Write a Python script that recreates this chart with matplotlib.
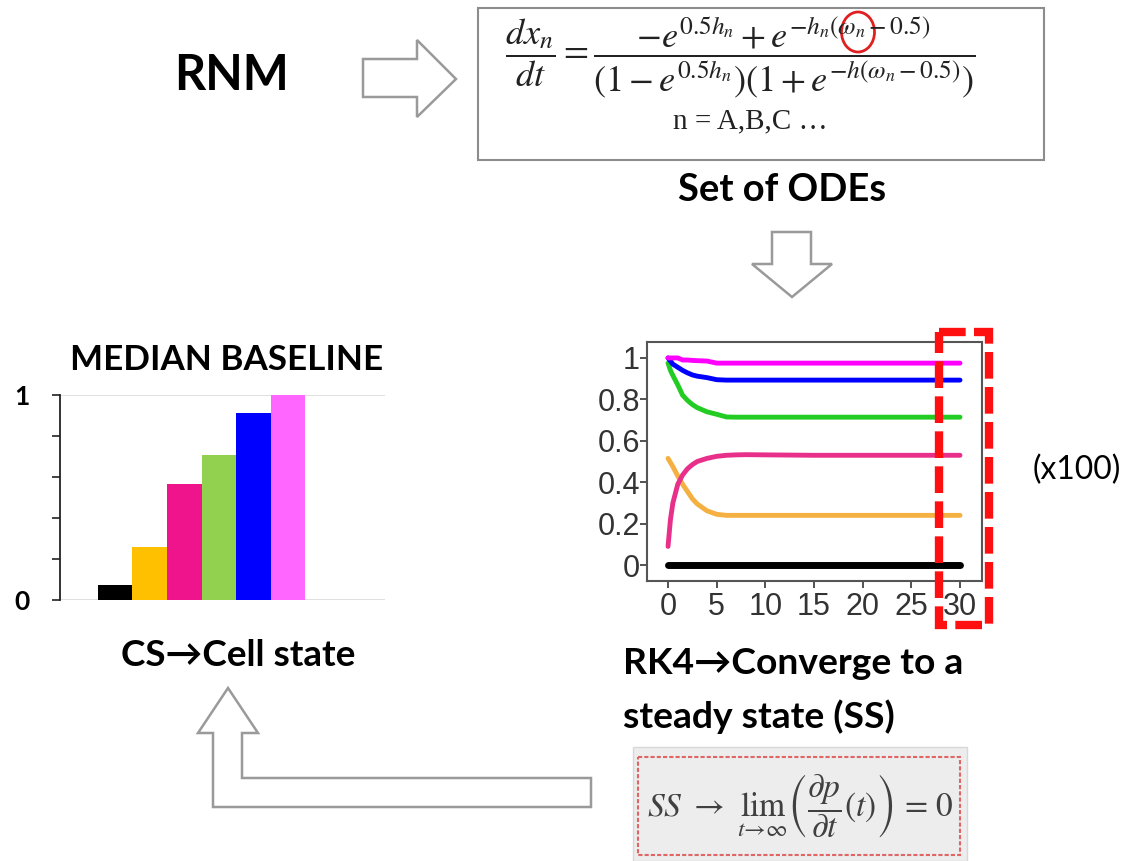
import matplotlib
matplotlib.use("Agg")
import matplotlib.pyplot as plt
from matplotlib.patches import Polygon, Rectangle, Ellipse

# bar chart (median baseline cell state)
bar_values = [0.075, 0.26, 0.565, 0.707, 0.91, 1.0]
bar_colors = ["#000000", "#ffc000", "#f0148c", "#92d050", "#0000ff", "#ff66ff"]

# RK4 trajectories
t = [0, 0.25, 0.5, 1, 1.5, 2, 2.5, 3, 4, 5, 6, 7, 8, 10, 15, 20, 25, 30]
x_magenta = [1.0, 1.0, 1.0, 1.0, 0.99, 0.99, 0.988, 0.987, 0.985, 0.975, 0.975,
             0.975, 0.975, 0.975, 0.975, 0.975, 0.975, 0.975]
x_blue = [1.0, 0.985, 0.97, 0.955, 0.94, 0.928, 0.918, 0.912, 0.905, 0.895, 0.893,
          0.893, 0.893, 0.893, 0.893, 0.893, 0.893, 0.893]
x_green = [0.975, 0.94, 0.915, 0.87, 0.82, 0.795, 0.775, 0.76, 0.74, 0.728, 0.715,
           0.714, 0.714, 0.714, 0.714, 0.714, 0.714, 0.714]
x_pink = [0.09, 0.22, 0.30, 0.39, 0.435, 0.465, 0.485, 0.50, 0.515, 0.525, 0.53,
          0.532, 0.533, 0.532, 0.53, 0.53, 0.53, 0.53]
x_orange = [0.515, 0.495, 0.475, 0.43, 0.39, 0.355, 0.32, 0.295, 0.262, 0.245, 0.24,
            0.24, 0.24, 0.24, 0.24, 0.24, 0.24, 0.24]
x_black = [0.0] * len(t)
series = [
    (x_black, "#000000", 5.0),
    (x_orange, "#f5b042", 3.5),
    (x_pink, "#e8308a", 3.5),
    (x_green, "#22cc22", 3.5),
    (x_blue, "#0000ff", 3.5),
    (x_magenta, "#ff00ff", 3.5),
]
x_ticks = [0, 5, 10, 15, 20, 25, 30]
y_ticks = [0, 0.2, 0.4, 0.6, 0.8, 1]
y_tick_labels = ["0", "0.2", "0.4", "0.6", "0.8", "1"]

W, H = 1129, 861
plt.rcParams["mathtext.fontset"] = "stix"
SANS = ["Lato", "DejaVu Sans"]

fig = plt.figure(figsize=(W / 100, H / 100), dpi=100)
renderer = fig.canvas.get_renderer()

canvas = fig.add_axes([0, 0, 1, 1], zorder=0)
canvas.set_xlim(0, W)
canvas.set_ylim(H, 0)
canvas.axis("off")


def px_axes(left, top, right, bottom, **kw):
    return fig.add_axes([left / W, (H - bottom) / H, (right - left) / W, (bottom - top) / H], **kw)


def fit_text(x, y, s, width, **kw):
    txt = canvas.text(x, y, s, fontsize=20, **kw)
    w = txt.get_window_extent(renderer).width
    txt.set_fontsize(20 * width / w)
    return txt


def hollow(points):
    canvas.add_patch(Polygon(points, closed=True, facecolor="white",
                             edgecolor="#9a9a9a", lw=1.8, joinstyle="miter"))


# titles and labels
fit_text(232, 76, "RNM", 115, ha="center", va="center", family=SANS, weight="bold")
fit_text(782, 190, "Set of ODEs", 208, ha="center", va="center", family=SANS, weight="bold")
fit_text(227, 360, "MEDIAN BASELINE", 312, ha="center", va="center", family=SANS, weight="bold")
fit_text(238, 655, "CS\u2192Cell state", 235, ha="center", va="center", family=SANS, weight="bold")
rk = fit_text(623, 663, "RK4\u2192Converge to a", 340, ha="left", va="center", family=SANS, weight="bold")
canvas.text(623, 717, "steady state (SS)", fontsize=rk.get_fontsize(), ha="left", va="center",
            family=SANS, weight="bold")
fit_text(1077, 470, "(x100)", 88, ha="center", va="center", family=SANS)

# arrows
hollow([(363, 59), (417, 59), (417, 40), (456, 79), (417, 117), (417, 97), (363, 97)])
hollow([(772, 232), (811, 232), (811, 264), (832, 264), (792, 297), (752, 264), (772, 264)])
hollow([(591, 778), (242, 778), (242, 733), (258, 733), (228, 688), (198, 733),
        (213, 733), (213, 807), (591, 807)])

# ODE box
canvas.add_patch(Rectangle((478, 8), 566, 152, facecolor="white", edgecolor="#8c8c8c", lw=1.5))
fit_text(740, 57,
         r"$\dfrac{dx_n}{dt} = \dfrac{-e^{0.5h_n} + e^{-h_n(\omega_n - 0.5)}}"
         r"{(1 - e^{0.5h_n})(1 + e^{-h(\omega_n - 0.5)})}$",
         470, ha="center", va="center", color="#222222")
canvas.text(750, 121, "n = A,B,C \u2026", fontsize=21, ha="center", va="center",
            family=["Liberation Serif", "DejaVu Serif"], color="#222222")
canvas.add_patch(Ellipse((858, 32), 33, 40, facecolor="none", edgecolor="#e02020", lw=2))

# steady state box
canvas.add_patch(Rectangle((633, 747), 334, 114, facecolor="#ededed", edgecolor="#d8d8d8", lw=1))
canvas.add_patch(Rectangle((638, 757), 322, 98, facecolor="none", edgecolor="#e06666",
                           lw=1.5, linestyle=(0, (2, 1))))
fit_text(800, 806, r"$SS\ \rightarrow\ \lim_{t\to\infty}\left(\dfrac{\partial p}{\partial t}(t)\right)\ =\ 0$",
         307, ha="center", va="center", color="#404040")

# bar chart
ax_bar = px_axes(60, 395, 385, 600, zorder=1)
ax_bar.patch.set_alpha(0)
ax_bar.bar(range(len(bar_values)), bar_values, width=1.0, color=bar_colors, zorder=3)
ax_bar.axhline(0, color="#d9d9d9", lw=1.2, zorder=1)
ax_bar.axhline(1, color="#d9d9d9", lw=1.2, zorder=1)
ax_bar.set_xlim(-1.59, 7.8)
ax_bar.set_ylim(0, 1)
for side in ["top", "right", "bottom"]:
    ax_bar.spines[side].set_visible(False)
ax_bar.spines["left"].set_color("#222222")
ax_bar.spines["left"].set_linewidth(1.3)
ax_bar.set_xticks([])
ax_bar.set_yticks(y_ticks)
ax_bar.set_yticklabels(["0", "", "", "", "", "1"], family=SANS, weight="bold", fontsize=19)
ax_bar.tick_params(axis="y", direction="out", length=6, width=1.2, pad=16, color="#222222")

# RK4 line chart
ax_line = px_axes(647, 342, 982, 581, zorder=1)
for ys, c, lw in series:
    ax_line.plot(t, ys, color=c, lw=lw, solid_capstyle="round")
ax_line.set_xlim(-2.16, 32.26)
ax_line.set_ylim(-0.077, 1.077)
ax_line.set_xticks(x_ticks)
ax_line.set_yticks(y_ticks)
ax_line.set_yticklabels(y_tick_labels)
for lab in ax_line.get_xticklabels() + ax_line.get_yticklabels():
    lab.set_family(["Liberation Sans", "DejaVu Sans"])
ax_line.tick_params(direction="out", length=5, width=1.3, color="#444444",
                    labelcolor="#333333", labelsize=22)
ax_line.tick_params(axis="y", pad=0)
ax_line.tick_params(axis="x", pad=3)
for sp in ax_line.spines.values():
    sp.set_color("#555555")
    sp.set_linewidth(1.5)

# red dashed window on the last time steps
fig.add_artist(Rectangle((939, 332), 50, 293, transform=canvas.transData, facecolor="none",
                         edgecolor="#ff1010", lw=6, linestyle=(0, (3.2, 1.0)), zorder=5))

fig.savefig("out.png", dpi=100)
